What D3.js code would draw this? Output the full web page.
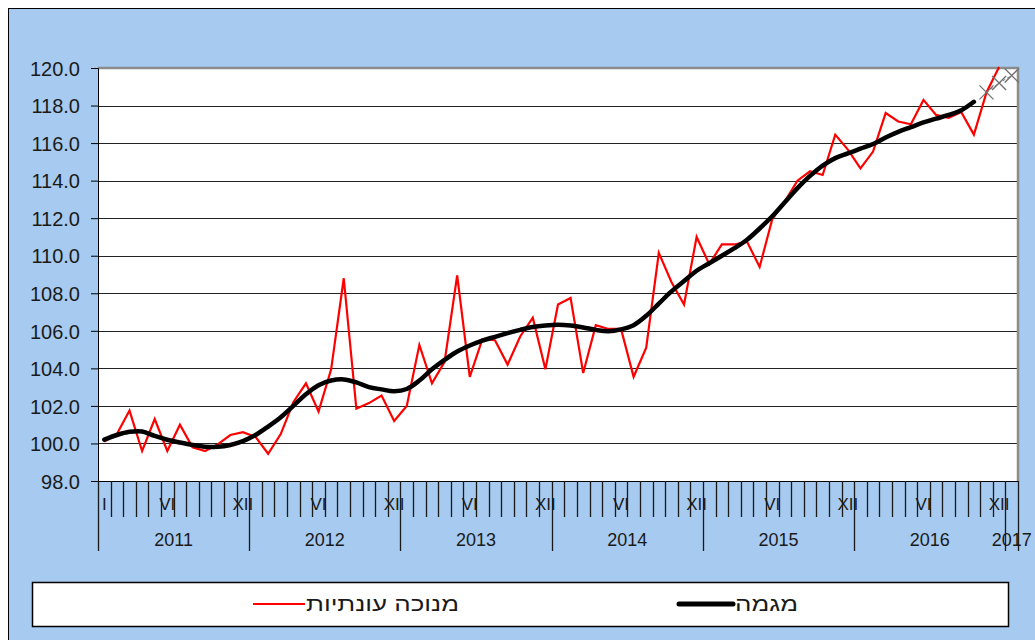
<!DOCTYPE html>
<meta charset="utf-8">
<script src="https://cdn.jsdelivr.net/npm/d3@7/dist/d3.min.js"></script>
<style type="text/css">
  body { margin: 0; background: #fff; }
  text { font-family: "Liberation Sans", Arial, sans-serif; fill: #1a1a1a; }
  .grid line { stroke: #222; stroke-width: 1; }
</style>
<body>
<script>

// monthly index, Jan 2011 .. Dec 2016 (seasonally adjusted)
var adjusted = [
  100.1, 100.5, 101.75, 99.6, 101.3, 99.6, 101.0, 99.8, 99.6, 99.95, 100.45, 100.6,
  100.35, 99.45, 100.5, 102.2, 103.2, 101.7, 103.95, 108.8, 101.85, 102.15, 102.55, 101.2,
  102.0, 105.25, 103.2, 104.35, 108.95, 103.55, 105.55, 105.5, 104.2, 105.7, 106.7, 103.95,
  107.4, 107.75, 103.75, 106.3, 106.1, 106.1, 103.55, 105.1, 110.15, 108.6, 107.4, 111.0,
  109.55, 110.6, 110.6, 110.75, 109.4, 111.95, 112.9, 114.0, 114.5, 114.3, 116.45, 115.65,
  114.65, 115.55, 117.6, 117.15, 117.0, 118.3, 117.5, 117.35, 117.65, 116.45, 118.7, 120.05
];

// trend, Jan 2011 .. Oct 2016
var trend = [
  100.2, 100.45, 100.62, 100.64, 100.4, 100.2, 100.05, 99.92, 99.83, 99.82, 99.92, 100.12,
  100.45, 100.9, 101.4, 102.0, 102.62, 103.1, 103.35, 103.41, 103.25, 103.0, 102.88, 102.78,
  102.9, 103.35, 103.95, 104.45, 104.9, 105.22, 105.48, 105.68, 105.88, 106.05, 106.2, 106.28,
  106.32, 106.28, 106.18, 106.05, 105.98, 106.08, 106.3, 106.8, 107.45, 108.1, 108.65, 109.2,
  109.6, 110.0, 110.4, 110.85, 111.45, 112.1, 112.85, 113.6, 114.25, 114.8, 115.2, 115.45,
  115.7, 115.95, 116.3, 116.6, 116.85, 117.1, 117.3, 117.5, 117.75, 118.2
];

// trend forecast, Nov 2016 .. Jan 2017
var forecastStart = 70;
var forecast = [118.7, 119.2, 119.6];

var monthLabels = [
  "I", "", "", "", "", "VI", "", "", "", "", "", "XII",
  "", "", "", "", "", "VI", "", "", "", "", "", "XII",
  "", "", "", "", "", "VI", "", "", "", "", "", "XII",
  "", "", "", "", "", "VI", "", "", "", "", "", "XII",
  "", "", "", "", "", "VI", "", "", "", "", "", "XII",
  "", "", "", "", "", "VI", "", "", "", "", "", "XII",
  ""
];
var years = ["2011", "2012", "2013", "2014", "2015", "2016", "2017"];
var yTicks = [98, 100, 102, 104, 106, 108, 110, 112, 114, 116, 118, 120];

var legendItems = [
  {name: "מנוכה עונתיות", color: "#ff0000", width: 2},
  {name: "מגמה", color: "#000000", width: 5}
];

var W = 1035, H = 640;
var plot = {left: 98, right: 1018, top: 68, bottom: 481};

var svg = d3.select("body").append("svg")
    .attr("width", W)
    .attr("height", H);

// chart frame
svg.append("rect")
    .attr("x", 8.5).attr("y", 8.5)
    .attr("width", W + 20).attr("height", H + 20)
    .style("fill", "#a6caf0")
    .style("stroke", "#000")
    .style("stroke-width", 1);

var idx = d3.range(monthLabels.length);

var xScale = d3.scaleBand()
    .domain(idx)
    .range([plot.left, plot.right]);

var yScale = d3.scaleLinear()
    .domain([98, 120])
    .range([plot.bottom, plot.top]);

var step = xScale.step();
var cx = i => xScale(i) + step / 2;

// plot area
svg.append("rect")
    .attr("x", plot.left).attr("y", plot.top)
    .attr("width", plot.right - plot.left)
    .attr("height", plot.bottom - plot.top)
    .style("fill", "#fff");

// grid
svg.append("g")
    .attr("class", "grid")
    .selectAll("line")
    .data(yTicks.slice(1))
    .enter()
      .append("line")
        .attr("x1", plot.left).attr("x2", plot.right)
        .attr("y1", d => Math.round(yScale(d)) + 0.5)
        .attr("y2", d => Math.round(yScale(d)) + 0.5);

// plot border top/right
svg.append("path")
    .attr("d", `M${plot.left},${plot.top}H${plot.right}V${plot.bottom}`)
    .style("fill", "none")
    .style("stroke", "#8c8c8c")
    .style("stroke-width", 2.5);

// y axis
var yAxis = d3.axisLeft(yScale)
    .tickValues(yTicks)
    .tickFormat(d3.format(".1f"))
    .tickSize(7)
    .tickPadding(11);

var yAxisGroup = svg.append("g")
    .attr("transform", `translate(${plot.left},0)`)
    .call(yAxis);
yAxisGroup.select(".domain").style("stroke", "#000");
yAxisGroup.selectAll(".tick line").style("stroke", "#000");
yAxisGroup.selectAll("text")
    .attr("dy", "0.36em")
    .style("font-family", "'Liberation Sans', Arial, sans-serif")
    .style("font-size", "20px")
    .style("fill", "#1a1a1a");

// x axis: month ticks, year separators
var xg = svg.append("g");
xg.append("line")
    .attr("x1", plot.left).attr("x2", plot.right)
    .attr("y1", plot.bottom + 0.5).attr("y2", plot.bottom + 0.5)
    .style("stroke", "#000");

var bounds = d3.range(monthLabels.length + 1);
xg.selectAll(".mtick")
    .data(bounds)
    .enter()
      .append("line")
        .attr("x1", i => Math.round(plot.left + i * step) + 0.5)
        .attr("x2", i => Math.round(plot.left + i * step) + 0.5)
        .attr("y1", plot.bottom)
        .attr("y2", i => (i % 12 === 0 || i === monthLabels.length) ? 551 : 517)
        .style("stroke", "#1a1a1a")
        .style("stroke-width", 1.3);

xg.selectAll(".mlabel")
    .data(idx.filter(i => monthLabels[i]))
    .enter()
      .append("text")
        .attr("x", i => cx(i))
        .attr("y", 510)
        .style("text-anchor", "middle")
        .style("font-size", "17px")
        .text(i => monthLabels[i]);

xg.selectAll(".ylabel")
    .data(years)
    .enter()
      .append("text")
        .attr("x", (d, k) => {
            var a = plot.left + k * 12 * step;
            var b = Math.min(plot.left + (k + 1) * 12 * step, plot.right);
            return (a + b) / 2;
        })
        .attr("y", 546)
        .style("text-anchor", "middle")
        .style("font-size", "18px")
        .text(d => d);

// lines
var line = d3.line()
    .x((d, i) => cx(i))
    .y(d => yScale(d));

svg.append("path")
    .datum(adjusted)
    .attr("d", line)
    .style("fill", "none")
    .style("stroke", "#ff0000")
    .style("stroke-width", 2.2)
    .style("stroke-linejoin", "miter");

svg.append("path")
    .datum(trend)
    .attr("d", line.curve(d3.curveCatmullRom))
    .style("fill", "none")
    .style("stroke", "#000")
    .style("stroke-width", 4.5)
    .style("stroke-linecap", "round");

// forecast crosses
var fc = forecast.map((v, k) => ({i: forecastStart + k, v: v}));
svg.append("path")
    .datum(fc)
    .attr("d", d3.line().x(d => cx(d.i)).y(d => yScale(d.v)))
    .style("fill", "none")
    .style("stroke", "#808080")
    .style("stroke-width", 1)
    .style("stroke-dasharray", "3,2");

svg.selectAll(".cross")
    .data(fc)
    .enter()
      .append("path")
        .attr("transform", d => `translate(${cx(d.i)},${yScale(d.v)})`)
        .attr("d", "M-7,-7L7,7M-7,7L7,-7")
        .style("stroke", "#707070")
        .style("stroke-width", 1.3);

// legend
var legend = svg.append("g");
legend.append("rect")
    .attr("x", 32.5).attr("y", 582.5)
    .attr("width", 976).attr("height", 44)
    .style("fill", "#fff")
    .style("stroke", "#000")
    .style("stroke-width", 1.5);

var legendX = [253, 679];
var legendTextW = [153, 63];
var li = legend.selectAll(".item")
    .data(legendItems)
    .enter()
      .append("g")
        .attr("transform", (d, k) => `translate(${legendX[k]},604)`);

li.append("line")
    .attr("x1", 0).attr("x2", d => d.width > 3 ? 54 : 52)
    .style("stroke", d => d.color)
    .style("stroke-width", d => d.width)
    .style("stroke-linecap", d => d.width > 3 ? "round" : "butt");

li.append("text")
    .attr("x", d => d.width > 3 ? 56 : 53)
    .attr("y", 7)
    .attr("textLength", (d, k) => legendTextW[k])
    .attr("lengthAdjust", "spacingAndGlyphs")
    .style("font-size", "20px")
    .style("text-anchor", "start")
    .text(d => d.name);

</script>
</body>
</html>
